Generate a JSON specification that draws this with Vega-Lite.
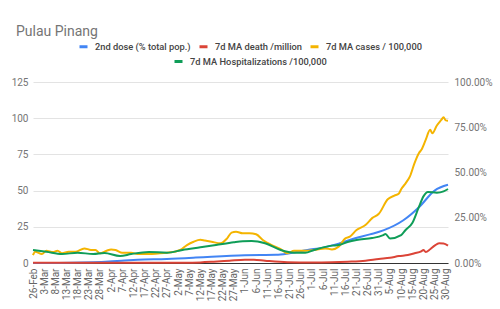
{
  "$schema": "https://vega.github.io/schema/vega-lite/v6.json",
  "autosize": {"type": "none"},
  "padding": {"left": 33, "top": 82, "right": 52, "bottom": 46},
  "width": 415,
  "height": 181,
  "background": "white",
  "config": {
    "view": {"stroke": null},
    "font": "Roboto",
    "legend": {
      "labelFont": "Roboto",
      "labelFontSize": 9.3,
      "labelFontWeight": 500,
      "labelColor": "#444444",
      "labelLimit": 400,
      "symbolType": "stroke",
      "symbolSize": 64,
      "symbolStrokeWidth": 3,
      "labelOffset": 6,
      "columnPadding": 2,
      "padding": 0
    }
  },
  "title": {
    "text": "Pulau Pinang",
    "anchor": "start",
    "frame": "group",
    "font": "Roboto",
    "fontSize": 14,
    "fontWeight": "normal",
    "color": "#757575",
    "dx": -17,
    "offset": 2
  },
  "data": {
    "values": [
      {"d": "2021-02-26", "s": "cases", "v": 5.5},
      {"d": "2021-02-27", "s": "cases", "v": 7.8},
      {"d": "2021-03-02", "s": "cases", "v": 6.2},
      {"d": "2021-03-04", "s": "cases", "v": 8.5},
      {"d": "2021-03-07", "s": "cases", "v": 7.6},
      {"d": "2021-03-09", "s": "cases", "v": 8.5},
      {"d": "2021-03-11", "s": "cases", "v": 6.7},
      {"d": "2021-03-14", "s": "cases", "v": 7.8},
      {"d": "2021-03-17", "s": "cases", "v": 7.8},
      {"d": "2021-03-21", "s": "cases", "v": 10.1},
      {"d": "2021-03-24", "s": "cases", "v": 9.0},
      {"d": "2021-03-26", "s": "cases", "v": 9.0},
      {"d": "2021-03-28", "s": "cases", "v": 6.7},
      {"d": "2021-03-31", "s": "cases", "v": 8.5},
      {"d": "2021-04-02", "s": "cases", "v": 9.4},
      {"d": "2021-04-04", "s": "cases", "v": 9.0},
      {"d": "2021-04-07", "s": "cases", "v": 7.1},
      {"d": "2021-04-11", "s": "cases", "v": 7.1},
      {"d": "2021-04-14", "s": "cases", "v": 6.2},
      {"d": "2021-04-19", "s": "cases", "v": 6.2},
      {"d": "2021-04-23", "s": "cases", "v": 6.6},
      {"d": "2021-04-27", "s": "cases", "v": 7.1},
      {"d": "2021-05-01", "s": "cases", "v": 8.0},
      {"d": "2021-05-03", "s": "cases", "v": 9.0},
      {"d": "2021-05-06", "s": "cases", "v": 12.4},
      {"d": "2021-05-09", "s": "cases", "v": 14.7},
      {"d": "2021-05-12", "s": "cases", "v": 16.0},
      {"d": "2021-05-14", "s": "cases", "v": 15.5},
      {"d": "2021-05-17", "s": "cases", "v": 14.7},
      {"d": "2021-05-21", "s": "cases", "v": 13.6},
      {"d": "2021-05-24", "s": "cases", "v": 17.0},
      {"d": "2021-05-26", "s": "cases", "v": 21.0},
      {"d": "2021-05-28", "s": "cases", "v": 21.6},
      {"d": "2021-05-31", "s": "cases", "v": 20.5},
      {"d": "2021-06-03", "s": "cases", "v": 20.5},
      {"d": "2021-06-06", "s": "cases", "v": 19.8},
      {"d": "2021-06-09", "s": "cases", "v": 15.9},
      {"d": "2021-06-13", "s": "cases", "v": 12.4},
      {"d": "2021-06-17", "s": "cases", "v": 9.6},
      {"d": "2021-06-20", "s": "cases", "v": 6.7},
      {"d": "2021-06-23", "s": "cases", "v": 8.5},
      {"d": "2021-06-28", "s": "cases", "v": 8.5},
      {"d": "2021-07-02", "s": "cases", "v": 9.0},
      {"d": "2021-07-07", "s": "cases", "v": 10.1},
      {"d": "2021-07-10", "s": "cases", "v": 9.4},
      {"d": "2021-07-13", "s": "cases", "v": 11.3},
      {"d": "2021-07-16", "s": "cases", "v": 17.0},
      {"d": "2021-07-18", "s": "cases", "v": 18.2},
      {"d": "2021-07-21", "s": "cases", "v": 22.8},
      {"d": "2021-07-25", "s": "cases", "v": 26.2},
      {"d": "2021-07-28", "s": "cases", "v": 31.0},
      {"d": "2021-07-31", "s": "cases", "v": 34.0},
      {"d": "2021-08-04", "s": "cases", "v": 44.0},
      {"d": "2021-08-07", "s": "cases", "v": 46.5},
      {"d": "2021-08-09", "s": "cases", "v": 48.0},
      {"d": "2021-08-10", "s": "cases", "v": 51.0},
      {"d": "2021-08-12", "s": "cases", "v": 55.0},
      {"d": "2021-08-14", "s": "cases", "v": 60.0},
      {"d": "2021-08-16", "s": "cases", "v": 69.0},
      {"d": "2021-08-18", "s": "cases", "v": 76.0},
      {"d": "2021-08-19", "s": "cases", "v": 78.0},
      {"d": "2021-08-21", "s": "cases", "v": 85.0},
      {"d": "2021-08-23", "s": "cases", "v": 92.0},
      {"d": "2021-08-24", "s": "cases", "v": 89.6},
      {"d": "2021-08-26", "s": "cases", "v": 95.0},
      {"d": "2021-08-28", "s": "cases", "v": 98.8},
      {"d": "2021-08-29", "s": "cases", "v": 100.6},
      {"d": "2021-08-30", "s": "cases", "v": 98.5},
      {"d": "2021-08-31", "s": "cases", "v": 98.3},

      {"d": "2021-02-26", "s": "hosp", "v": 9.0},
      {"d": "2021-03-04", "s": "hosp", "v": 7.8},
      {"d": "2021-03-11", "s": "hosp", "v": 6.2},
      {"d": "2021-03-18", "s": "hosp", "v": 7.1},
      {"d": "2021-03-25", "s": "hosp", "v": 6.2},
      {"d": "2021-03-30", "s": "hosp", "v": 6.9},
      {"d": "2021-04-06", "s": "hosp", "v": 4.8},
      {"d": "2021-04-11", "s": "hosp", "v": 6.2},
      {"d": "2021-04-19", "s": "hosp", "v": 7.6},
      {"d": "2021-04-27", "s": "hosp", "v": 7.1},
      {"d": "2021-05-04", "s": "hosp", "v": 9.0},
      {"d": "2021-05-12", "s": "hosp", "v": 10.8},
      {"d": "2021-05-19", "s": "hosp", "v": 12.4},
      {"d": "2021-05-27", "s": "hosp", "v": 14.3},
      {"d": "2021-05-31", "s": "hosp", "v": 15.0},
      {"d": "2021-06-04", "s": "hosp", "v": 15.2},
      {"d": "2021-06-10", "s": "hosp", "v": 13.6},
      {"d": "2021-06-17", "s": "hosp", "v": 9.0},
      {"d": "2021-06-23", "s": "hosp", "v": 7.1},
      {"d": "2021-06-28", "s": "hosp", "v": 7.1},
      {"d": "2021-07-02", "s": "hosp", "v": 9.0},
      {"d": "2021-07-10", "s": "hosp", "v": 12.0},
      {"d": "2021-07-13", "s": "hosp", "v": 12.4},
      {"d": "2021-07-17", "s": "hosp", "v": 14.5},
      {"d": "2021-07-21", "s": "hosp", "v": 15.9},
      {"d": "2021-07-28", "s": "hosp", "v": 17.2},
      {"d": "2021-08-02", "s": "hosp", "v": 19.3},
      {"d": "2021-08-03", "s": "hosp", "v": 20.0},
      {"d": "2021-08-05", "s": "hosp", "v": 17.0},
      {"d": "2021-08-10", "s": "hosp", "v": 19.3},
      {"d": "2021-08-12", "s": "hosp", "v": 22.8},
      {"d": "2021-08-15", "s": "hosp", "v": 27.6},
      {"d": "2021-08-18", "s": "hosp", "v": 38.9},
      {"d": "2021-08-20", "s": "hosp", "v": 46.0},
      {"d": "2021-08-22", "s": "hosp", "v": 49.0},
      {"d": "2021-08-26", "s": "hosp", "v": 48.6},
      {"d": "2021-08-29", "s": "hosp", "v": 49.5},
      {"d": "2021-08-31", "s": "hosp", "v": 51.1},

      {"d": "2021-02-26", "s": "dose", "v": 0},
      {"d": "2021-03-15", "s": "dose", "v": 0.001},
      {"d": "2021-03-25", "s": "dose", "v": 0.004},
      {"d": "2021-04-01", "s": "dose", "v": 0.008},
      {"d": "2021-04-08", "s": "dose", "v": 0.014},
      {"d": "2021-04-14", "s": "dose", "v": 0.018},
      {"d": "2021-04-27", "s": "dose", "v": 0.022},
      {"d": "2021-05-10", "s": "dose", "v": 0.03},
      {"d": "2021-05-17", "s": "dose", "v": 0.035},
      {"d": "2021-06-01", "s": "dose", "v": 0.043},
      {"d": "2021-06-15", "s": "dose", "v": 0.045},
      {"d": "2021-06-21", "s": "dose", "v": 0.054},
      {"d": "2021-06-29", "s": "dose", "v": 0.072},
      {"d": "2021-07-06", "s": "dose", "v": 0.085},
      {"d": "2021-07-13", "s": "dose", "v": 0.107},
      {"d": "2021-07-20", "s": "dose", "v": 0.135},
      {"d": "2021-07-27", "s": "dose", "v": 0.158},
      {"d": "2021-08-02", "s": "dose", "v": 0.18},
      {"d": "2021-08-11", "s": "dose", "v": 0.236},
      {"d": "2021-08-18", "s": "dose", "v": 0.308},
      {"d": "2021-08-25", "s": "dose", "v": 0.40},
      {"d": "2021-08-31", "s": "dose", "v": 0.432},

      {"d": "2021-02-26", "s": "death", "v": 0.2},
      {"d": "2021-03-15", "s": "death", "v": 0.2},
      {"d": "2021-04-01", "s": "death", "v": 0.1},
      {"d": "2021-04-20", "s": "death", "v": 0.2},
      {"d": "2021-05-05", "s": "death", "v": 0.2},
      {"d": "2021-05-12", "s": "death", "v": 0.4},
      {"d": "2021-05-18", "s": "death", "v": 0.9},
      {"d": "2021-05-25", "s": "death", "v": 1.6},
      {"d": "2021-06-01", "s": "death", "v": 2.3},
      {"d": "2021-06-05", "s": "death", "v": 2.2},
      {"d": "2021-06-10", "s": "death", "v": 1.6},
      {"d": "2021-06-20", "s": "death", "v": 0.6},
      {"d": "2021-07-01", "s": "death", "v": 0.3},
      {"d": "2021-07-10", "s": "death", "v": 0.5},
      {"d": "2021-07-17", "s": "death", "v": 0.9},
      {"d": "2021-07-25", "s": "death", "v": 1.6},
      {"d": "2021-07-31", "s": "death", "v": 2.8},
      {"d": "2021-08-05", "s": "death", "v": 3.6},
      {"d": "2021-08-09", "s": "death", "v": 4.8},
      {"d": "2021-08-13", "s": "death", "v": 5.5},
      {"d": "2021-08-16", "s": "death", "v": 6.7},
      {"d": "2021-08-19", "s": "death", "v": 8.0},
      {"d": "2021-08-20", "s": "death", "v": 9.0},
      {"d": "2021-08-21", "s": "death", "v": 7.6},
      {"d": "2021-08-23", "s": "death", "v": 9.5},
      {"d": "2021-08-25", "s": "death", "v": 12.0},
      {"d": "2021-08-27", "s": "death", "v": 13.6},
      {"d": "2021-08-29", "s": "death", "v": 13.5},
      {"d": "2021-08-31", "s": "death", "v": 12.0}
    ]
  },
  "encoding": {
    "x": {
      "field": "d",
      "type": "temporal",
      "scale": {"type": "utc", "domain": [{"year": 2021, "month": "Feb", "date": 26, "utc": true}, {"year": 2021, "month": "Aug", "date": 31, "utc": true}]},
      "axis": {
        "title": null,
        "grid": false,
        "ticks": false,
        "domain": true,
        "domainColor": "#333333",
        "domainWidth": 1,
        "labelAngle": 270,
        "labelFont": "Roboto",
        "labelFontSize": 10,
        "labelColor": "#666666",
        "labelPadding": 5,
        "labelOverlap": false,
        "labelExpr": "utcFormat(datum.value, '%-d-%b')",
        "values": [
          {"year": 2021, "month": "Feb", "date": 26, "utc": true},
          {"year": 2021, "month": "Mar", "date": 3, "utc": true},
          {"year": 2021, "month": "Mar", "date": 8, "utc": true},
          {"year": 2021, "month": "Mar", "date": 13, "utc": true},
          {"year": 2021, "month": "Mar", "date": 18, "utc": true},
          {"year": 2021, "month": "Mar", "date": 23, "utc": true},
          {"year": 2021, "month": "Mar", "date": 28, "utc": true},
          {"year": 2021, "month": "Apr", "date": 2, "utc": true},
          {"year": 2021, "month": "Apr", "date": 7, "utc": true},
          {"year": 2021, "month": "Apr", "date": 12, "utc": true},
          {"year": 2021, "month": "Apr", "date": 17, "utc": true},
          {"year": 2021, "month": "Apr", "date": 22, "utc": true},
          {"year": 2021, "month": "Apr", "date": 27, "utc": true},
          {"year": 2021, "month": "May", "date": 2, "utc": true},
          {"year": 2021, "month": "May", "date": 7, "utc": true},
          {"year": 2021, "month": "May", "date": 12, "utc": true},
          {"year": 2021, "month": "May", "date": 17, "utc": true},
          {"year": 2021, "month": "May", "date": 22, "utc": true},
          {"year": 2021, "month": "May", "date": 27, "utc": true},
          {"year": 2021, "month": "Jun", "date": 1, "utc": true},
          {"year": 2021, "month": "Jun", "date": 6, "utc": true},
          {"year": 2021, "month": "Jun", "date": 11, "utc": true},
          {"year": 2021, "month": "Jun", "date": 16, "utc": true},
          {"year": 2021, "month": "Jun", "date": 21, "utc": true},
          {"year": 2021, "month": "Jun", "date": 26, "utc": true},
          {"year": 2021, "month": "Jul", "date": 1, "utc": true},
          {"year": 2021, "month": "Jul", "date": 6, "utc": true},
          {"year": 2021, "month": "Jul", "date": 11, "utc": true},
          {"year": 2021, "month": "Jul", "date": 16, "utc": true},
          {"year": 2021, "month": "Jul", "date": 21, "utc": true},
          {"year": 2021, "month": "Jul", "date": 26, "utc": true},
          {"year": 2021, "month": "Jul", "date": 31, "utc": true},
          {"year": 2021, "month": "Aug", "date": 5, "utc": true},
          {"year": 2021, "month": "Aug", "date": 10, "utc": true},
          {"year": 2021, "month": "Aug", "date": 15, "utc": true},
          {"year": 2021, "month": "Aug", "date": 20, "utc": true},
          {"year": 2021, "month": "Aug", "date": 25, "utc": true},
          {"year": 2021, "month": "Aug", "date": 30, "utc": true}
        ]
      }
    }
  },
  "layer": [
    {
      "transform": [{"filter": "datum.s === 'dose'"}],
      "mark": {"type": "line", "strokeWidth": 2, "interpolate": "monotone"},
      "encoding": {
        "y": {
          "field": "v",
          "type": "quantitative",
          "scale": {"domain": [0, 1], "nice": false, "zero": true},
          "axis": {
            "orient": "right",
            "title": null,
            "format": ".2%",
            "values": [0, 0.25, 0.5, 0.75, 1],
            "grid": false,
            "ticks": false,
            "domain": false,
            "labelFont": "Roboto",
            "labelFontSize": 10,
            "labelColor": "#757575",
            "labelPadding": 6
          }
        },
        "color": {
          "field": "s",
          "type": "nominal",
          "scale": {"domain": ["dose", "death", "cases"], "range": ["#4285F4", "#DB4437", "#F4B400"]},
          "legend": {
            "orient": "none",
            "direction": "horizontal",
            "legendX": 45,
            "legendY": -41,
            "title": null,
            "labelExpr": "datum.value === 'dose' ? '2nd dose (% total pop.)' : datum.value === 'death' ? '7d MA death /million' : '7d MA cases / 100,000'"
          }
        }
      }
    },
    {
      "transform": [{"filter": "datum.s === 'death' || datum.s === 'cases'"}],
      "mark": {"type": "line", "strokeWidth": 2, "interpolate": "monotone"},
      "encoding": {
        "y": {
          "field": "v",
          "type": "quantitative",
          "scale": {"domain": [0, 125], "nice": false},
          "axis": {
            "orient": "left",
            "title": null,
            "values": [0, 25, 50, 75, 100, 125],
            "grid": true,
            "gridColor": "#e3e3e3",
            "ticks": false,
            "domain": false,
            "labelFont": "Roboto",
            "labelFontSize": 10,
            "labelColor": "#757575",
            "labelPadding": 5
          }
        },
        "color": {
          "field": "s",
          "type": "nominal",
          "scale": {"domain": ["dose", "death", "cases"], "range": ["#4285F4", "#DB4437", "#F4B400"]},
          "legend": {
            "orient": "none",
            "direction": "horizontal",
            "legendX": 45,
            "legendY": -41,
            "title": null,
            "labelExpr": "datum.value === 'dose' ? '2nd dose (% total pop.)' : datum.value === 'death' ? '7d MA death /million' : '7d MA cases / 100,000'"
          }
        }
      }
    },
    {
      "transform": [{"filter": "datum.s === 'hosp'"}],
      "mark": {"type": "line", "strokeWidth": 2, "interpolate": "monotone"},
      "encoding": {
        "y": {
          "field": "v",
          "type": "quantitative",
          "scale": {"domain": [0, 125], "nice": false},
          "axis": null
        },
        "stroke": {
          "field": "s",
          "type": "nominal",
          "scale": {"domain": ["hosp"], "range": ["#0F9D58"]},
          "legend": {
            "orient": "none",
            "direction": "horizontal",
            "legendX": 140,
            "legendY": -26,
            "title": null,
            "labelExpr": "'7d MA Hospitalizations /100,000'"
          }
        }
      }
    }
  ],
  "resolve": {"scale": {"y": "independent"}}
}
